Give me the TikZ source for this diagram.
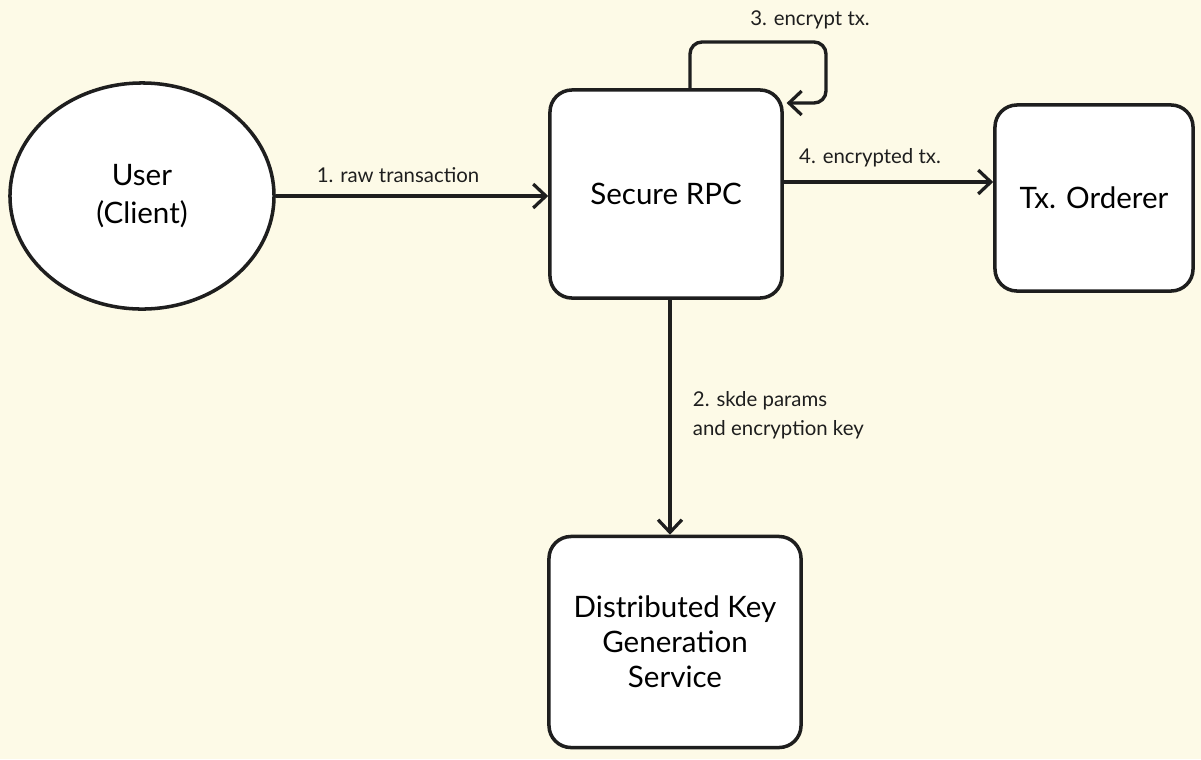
\documentclass[tikz,border=0pt]{standalone}
\usepackage{fontspec}
\setmainfont{Lato}
\usetikzlibrary{arrows.meta,shapes.geometric}
\definecolor{paper}{HTML}{FDFAE7}
\definecolor{ink}{HTML}{1E1E1E}
\tikzset{
  box/.style={draw=ink,fill=white,line width=2.5pt,rounded corners=0.55cm,align=center,font=\fontsize{21}{25}\selectfont},
  flow/.style={draw=ink,line width=2.4pt,-{Straight Barb[length=9pt,width=17pt,line width=2.3pt]}},
  lbl/.style={font=\fontsize{14.5}{21}\selectfont,text=ink}
}
\begin{document}
\begin{tikzpicture}[x=0.025cm,y=-0.025cm]
\fill[paper](0,0) rectangle (1201,759);
\useasboundingbox (0,0) rectangle (1201,759);
\node[ellipse,draw=ink,fill=white,line width=2.5pt,minimum width=6.6cm,minimum height=5.65cm,align=center,font=\fontsize{21}{27}\selectfont] (user) at (142,196){User\\(Client)};
\node[box,minimum width=5.8cm,minimum height=5.2cm] (rpc) at (666,194){Secure RPC};
\node[box,minimum width=4.95cm,minimum height=4.65cm] (orderer) at (1094,198){Tx. Orderer};
\node[box,minimum width=6.3cm,minimum height=5.275cm,font=\fontsize{21}{25}\selectfont] (dkg) at (675,642){Distributed Key\\Generation\\Service};
\draw[flow](user.east)--(user.east -| rpc.west);
\draw[flow](rpc.east |- 0,182)--(orderer.west |- 0,182);
\draw[flow](rpc.south -| 670,0)--(dkg.north -| 670,0);
\draw[flow,rounded corners=0.3cm](rpc.north -| 690,0)--(690,42)--(826,42)--(826,103)--([xshift=2pt]rpc.east |- 0,103);
\node[lbl] (l1) at (398,175){1. raw transaction};
\node[lbl] (l4) at (870,158){4. encrypted tx.};
\node[lbl,align=left,anchor=west] (l2) at (688,415){2. skde params\\and encryption key};
\node[lbl] (l3) at (810,20){3. encrypt tx.};
\end{tikzpicture}
\end{document}
